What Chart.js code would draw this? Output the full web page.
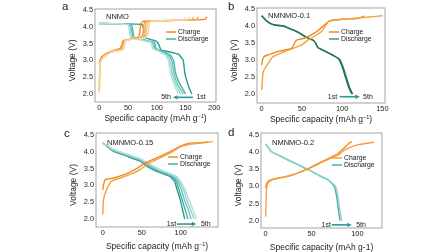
<!DOCTYPE html>
<html><head><meta charset="utf-8">
<script src="https://cdn.jsdelivr.net/npm/chart.js@4.4.1/dist/chart.umd.min.js"></script>
<style>
html,body{margin:0;padding:0;background:#fff;width:448px;height:252px;overflow:hidden}
canvas{position:absolute;left:0;top:0}
</style></head>
<body>
<canvas id="pa" width="448" height="252"></canvas>
<canvas id="pb" width="448" height="252"></canvas>
<canvas id="pc" width="448" height="252"></canvas>
<canvas id="pd" width="448" height="252"></canvas>
<script>
// ---------------- tick labels / texts ----------------
const aXTicks = [0, 50, 100, 150, 200];
const bXTicks = [0, 50, 100, 150];
const cXTicks = [0, 50, 100];
const dXTicks = [0, 50, 100];
const vTicks = [2.0, 2.5, 3.0, 3.5, 4.0, 4.5];
const seriesNames = ['Charge', 'Discharge'];
const cycleLabels = ['1st', '5th'];
const panelLetters = ['a', 'b', 'c', 'd'];
const sampleNames = ['NNMO', 'NMNMO-0.1', 'NMNMO-0.15', 'NMNMO-0.2'];

// ---------------- panel a (NNMO): [capacity mAh/g, voltage V] ----------------
const aCharge1 = [[0,2.9],[1,3.0],[4,3.1],[12,3.2],[25,3.3],[36,3.35],[39,3.45],[41,3.58],[48,3.62],[62,3.64],[67,3.68],[70,3.78],[72,4.08],[76,4.16],[100,4.18],[150,4.2],[184,4.22],[187,4.3]];
const aCharge2 = [[0,2.05],[1,2.85],[4,3.05],[12,3.18],[25,3.29],[38,3.34],[41,3.45],[43,3.58],[50,3.62],[66,3.65],[73,3.7],[76,3.8],[78,4.1],[82,4.16],[110,4.18],[150,4.2],[170,4.22],[172,4.3]];
const aCharge3 = [[0,2.05],[1,2.85],[4,3.04],[12,3.17],[25,3.28],[39,3.33],[42,3.45],[44,3.58],[52,3.62],[69,3.65],[76,3.7],[79,3.8],[81,4.1],[85,4.16],[110,4.18],[150,4.2],[162,4.21],[164,4.3]];
const aCharge4 = [[0,2.05],[1,2.85],[4,3.03],[12,3.16],[25,3.27],[40,3.32],[43,3.45],[45,3.58],[53,3.62],[71,3.65],[79,3.7],[82,3.8],[84,4.1],[88,4.16],[110,4.18],[150,4.2],[155,4.21],[157,4.3]];
const aCharge5 = [[0,2.05],[1,2.85],[4,3.02],[12,3.15],[25,3.26],[41,3.31],[44,3.45],[46,3.58],[54,3.62],[73,3.65],[82,3.7],[85,3.8],[87,4.1],[91,4.16],[110,4.18],[140,4.2],[148,4.21],[150,4.3]];
const aDischarge1 = [[0,4.1],[40,4.09],[74,4.07],[77,3.95],[80,3.68],[90,3.62],[100,3.56],[104,3.45],[107,3.32],[115,3.28],[130,3.22],[138,3.18],[143,3.08],[146,3.0],[149,2.6],[152,2.4],[157,2.15],[161,2.0]];
const aDischarge2 = [[0,4.1],[30,4.09],[56,4.06],[58,3.9],[61,3.68],[80,3.6],[96,3.53],[99,3.35],[108,3.28],[124,3.15],[129,3.0],[133,2.6],[140,2.3],[150,2.0]];
const aDischarge3 = [[0,4.1],[30,4.09],[54,4.06],[56,3.9],[59,3.68],[78,3.6],[94,3.53],[97,3.35],[106,3.28],[121,3.15],[126,3.0],[130,2.6],[136,2.3],[146,2.0]];
const aDischarge4 = [[0,4.1],[30,4.09],[52,4.06],[54,3.9],[57,3.68],[76,3.6],[92,3.53],[95,3.35],[104,3.28],[118,3.15],[123,3.0],[127,2.6],[133,2.3],[141,2.0]];
const aDischarge5 = [[0,4.1],[30,4.09],[50,4.06],[52,3.9],[55,3.68],[74,3.6],[90,3.53],[93,3.35],[102,3.28],[115,3.15],[120,3.0],[124,2.6],[130,2.3],[137,2.0]];

// ---------------- panel b (NMNMO-0.1) ----------------
const bCharge1 = [[0,2.85],[1,3.0],[3,3.1],[8,3.15],[20,3.25],[37,3.34],[40,3.45],[42,3.55],[45,3.6],[53,3.64],[68,3.83],[78,4.03],[84,4.15],[99,4.2],[119,4.22],[124,4.26],[127,4.3]];
const bCharge2 = [[0,2.12],[1,2.45],[2,2.66],[8,2.9],[14,3.1],[29,3.25],[49,3.44],[58,3.59],[74,3.83],[82,4.1],[86,4.15],[99,4.19],[127,4.25],[150,4.3]];
const bDischarge1 = [[0,4.3],[4,4.2],[9,4.1],[16,4.03],[27,4.0],[37,3.9],[45,3.82],[52,3.72],[59,3.63],[64,3.58],[67,3.5],[70,3.36],[78,3.27],[90,3.12],[96,3.02],[100,2.8],[104,2.5],[108,2.2],[112,2.0]];
const bDischarge5 = [[0,4.3],[4,4.2],[9,4.1],[16,4.03],[27,4.0],[37,3.9],[45,3.82],[52,3.72],[59,3.63],[64,3.58],[67,3.5],[70,3.36],[78,3.27],[90,3.12],[97,3.02],[101,2.8],[105,2.5],[109,2.2],[113,2.0]];

// ---------------- panel c (NMNMO-0.15) ----------------
const cCharge1 = [[0,2.87],[1,3.0],[3,3.17],[14,3.22],[31,3.35],[45,3.52],[52,3.64],[69,3.82],[86,4.0],[99,4.16],[111,4.26],[130,4.28],[135,4.3]];
const cCharge2 = [[0,2.13],[1,2.58],[5,2.87],[11,3.12],[31,3.29],[48,3.47],[60,3.67],[86,3.96],[101,4.16],[116,4.24],[135,4.28],[141,4.31]];
const cDischarge1 = [[0,4.27],[6,4.15],[14,4.01],[31,3.87],[48,3.72],[56,3.57],[69,3.42],[86,3.27],[92,3.12],[95,2.9],[99,2.6],[102,2.3],[105,2.0]];
const cDischarge2 = [[0,4.27],[6,4.16],[14,4.03],[31,3.89],[48,3.74],[57,3.6],[70,3.44],[88,3.28],[94,3.12],[98,2.85],[102,2.55],[106,2.25],[109,2.0]];
const cDischarge3 = [[0,4.27],[6,4.17],[14,4.05],[31,3.91],[48,3.76],[58,3.62],[71,3.46],[90,3.28],[96,3.12],[101,2.85],[105,2.55],[110,2.25],[113,2.0]];
const cDischarge4 = [[0,4.27],[6,4.18],[14,4.06],[31,3.92],[48,3.78],[59,3.63],[72,3.47],[92,3.28],[98,3.12],[104,2.85],[108,2.55],[113,2.25],[117,2.0]];
const cDischarge5 = [[0,4.27],[6,4.19],[14,4.07],[31,3.93],[48,3.8],[60,3.64],[73,3.48],[94,3.28],[100,3.12],[106,2.85],[111,2.55],[116,2.25],[120,2.0]];

// ---------------- panel d (NMNMO-0.2) ----------------
const dCharge1 = [[0,2.95],[1,3.08],[3,3.16],[8,3.21],[28,3.33],[47,3.53],[65,3.77],[79,3.96],[87,4.16],[92,4.28],[94,4.3]];
const dCharge2 = [[0,2.12],[0.5,2.6],[1,2.95],[3,3.12],[8,3.2],[28,3.32],[47,3.52],[65,3.75],[80,3.93],[87,4.08],[101,4.22],[116,4.28],[118,4.3]];
const dDischarge1 = [[0,4.24],[6.5,4.01],[17,3.87],[32,3.67],[47,3.48],[61,3.28],[68,3.19],[72,3.09],[74,3.04],[76,2.9],[78,2.6],[79.5,2.3],[81,2.0]];
const dDischarge5 = [[0,4.24],[6.5,4.02],[17,3.88],[32,3.68],[47,3.49],[61,3.29],[68,3.2],[72,3.11],[75,3.05],[77.5,2.9],[79.5,2.6],[81,2.3],[83,2.0]];

// ---------------- styling ----------------
const FONT = '"Liberation Sans", Arial, Helvetica, sans-serif';
const FRAME = '#8c8c8c';
const TEXT = '#222222';
const W = 448, H = 252, YW = 20, XH = 12;
const orange = ['#F08A1C','#F4A040','#F7B463','#F9C584','#FBD5A5'];
const teal = ['#2A9C92','#4BB0A6','#6FC2B9','#93D3CB','#B3E1DB'];
const green = '#1F7A4C';
const arrowColor = '#2A9C92';

Chart.defaults.font.family = FONT;

function drawXTitle(ctx, cx, cy, sup) {
  const big = '8.5px ' + FONT, small = '5.5px ' + FONT;
  if (!sup) {
    ctx.font = big; ctx.textAlign = 'center'; ctx.textBaseline = 'middle';
    ctx.fillText('Specific capacity (mAh g-1)', cx, cy);
    return;
  }
  const p1 = 'Specific capacity (mAh g', p2 = '\u22121', p3 = ')';
  ctx.font = big; const w1 = ctx.measureText(p1).width, w3 = ctx.measureText(p3).width;
  ctx.font = small; const w2 = ctx.measureText(p2).width;
  let x = cx - (w1 + w2 + w3) / 2;
  ctx.textAlign = 'left'; ctx.textBaseline = 'middle';
  ctx.font = big; ctx.fillText(p1, x, cy); x += w1;
  ctx.font = small; ctx.fillText(p2, x, cy - 3); x += w2;
  ctx.font = big; ctx.fillText(p3, x, cy);
}

const decor = {
  id: 'decor',
  afterDraw(chart, args, o) {
    const ctx = chart.ctx, a = chart.chartArea, xs = chart.scales.x, ys = chart.scales.y;
    ctx.save();
    ctx.strokeStyle = FRAME; ctx.lineWidth = 0.8;
    ctx.strokeRect(a.left, a.top, a.right - a.left, a.bottom - a.top);
    ctx.fillStyle = TEXT;
    ctx.font = '11.5px ' + FONT; ctx.textAlign = 'left'; ctx.textBaseline = 'alphabetic';
    ctx.fillText(o.letter, a.left + o.letterDx, o.letterY);
    ctx.font = '7.5px ' + FONT; ctx.textBaseline = 'middle';
    ctx.fillText(o.sample, a.left + 11, a.top + o.sampleDy);
    const lx = a.right - o.legDx, ly = a.top + o.legDy;
    ctx.lineWidth = 1.5;
    ctx.strokeStyle = o.legColors[0];
    ctx.beginPath(); ctx.moveTo(lx, ly); ctx.lineTo(lx + 10, ly); ctx.stroke();
    ctx.strokeStyle = o.legColors[1];
    ctx.beginPath(); ctx.moveTo(lx, ly + 7); ctx.lineTo(lx + 10, ly + 7); ctx.stroke();
    ctx.font = '6.8px ' + FONT; ctx.fillStyle = TEXT;
    ctx.fillText(seriesNames[0], lx + 12, ly);
    ctx.fillText(seriesNames[1], lx + 12, ly + 7);
    const ay = ys.getPixelForValue(o.arrowV);
    const x1 = xs.getPixelForValue(o.arrowFrom), x2 = xs.getPixelForValue(o.arrowTo);
    ctx.strokeStyle = arrowColor; ctx.fillStyle = arrowColor; ctx.lineWidth = 1.6;
    const dir = Math.sign(x2 - x1);
    ctx.beginPath(); ctx.moveTo(x1, ay); ctx.lineTo(x2 - dir * 3, ay); ctx.stroke();
    ctx.beginPath(); ctx.moveTo(x2, ay); ctx.lineTo(x2 - dir * 4.5, ay - 2.2); ctx.lineTo(x2 - dir * 4.5, ay + 2.2); ctx.closePath(); ctx.fill();
    ctx.fillStyle = TEXT; ctx.font = '7px ' + FONT; ctx.textAlign = 'center';
    ctx.fillText(cycleLabels[0], xs.getPixelForValue(o.firstAt), ay);
    ctx.fillText(cycleLabels[1], xs.getPixelForValue(o.fifthAt), ay);
    ctx.save();
    ctx.translate(a.left - 22, (a.top + a.bottom) / 2 + 5);
    ctx.rotate(-Math.PI / 2);
    ctx.font = '8.5px ' + FONT; ctx.textAlign = 'center'; ctx.textBaseline = 'middle';
    ctx.fillText('Voltage (V)', 0, 0);
    ctx.restore();
    drawXTitle(ctx, (a.left + a.right) / 2, a.bottom + o.xTitleDy, o.sup);
    ctx.restore();
  }
};

function makePanel(id, p) {
  new Chart(document.getElementById(id), {
    type: 'line',
    data: { datasets: p.series.map(s => ({
      data: s.data, borderColor: s.color, borderWidth: 1.4, pointRadius: 0,
      tension: 0.15, fill: false
    })) },
    options: {
      responsive: false, animation: false, events: [],
      layout: { padding: { left: p.L - YW, right: W - p.R, top: p.T, bottom: H - p.B - XH } },
      plugins: { legend: { display: false }, tooltip: { enabled: false }, decor: p.decor },
      scales: {
        x: {
          type: 'linear', min: p.xMin, max: p.xMax,
          afterFit: s => { s.height = XH; },
          afterBuildTicks: s => { s.ticks = p.xTicks.map(v => ({ value: v })); },
          grid: { display: true, drawOnChartArea: false, drawTicks: false },
          border: { display: false },
          ticks: { color: TEXT, font: { size: 7.4 }, padding: 2, maxRotation: 0, autoSkip: false, callback: v => String(v) }
        },
        y: {
          type: 'linear', min: p.yMin, max: p.yMax,
          afterFit: s => { s.width = YW; },
          afterBuildTicks: s => { s.ticks = vTicks.map(v => ({ value: v })); },
          grid: { display: true, drawOnChartArea: false, drawTicks: false },
          border: { display: false },
          ticks: { color: TEXT, font: { size: 7.4 }, padding: 2, autoSkip: false, callback: v => Number(v).toFixed(1) }
        }
      }
    },
    plugins: [decor]
  });
}

makePanel('pa', {
  L: 95, R: 216, T: 9, B: 102, xMin: -7.5, xMax: 203, yMin: 1.762, yMax: 4.53, xTicks: aXTicks,
  series: [
    { data: aCharge5, color: orange[4] }, { data: aCharge4, color: orange[3] }, { data: aCharge3, color: orange[2] },
    { data: aCharge2, color: orange[1] }, { data: aCharge1, color: orange[0] },
    { data: aDischarge5, color: teal[4] }, { data: aDischarge4, color: teal[3] }, { data: aDischarge3, color: teal[2] },
    { data: aDischarge2, color: teal[1] }, { data: aDischarge1, color: teal[0] }
  ],
  decor: { letter: panelLetters[0], letterDx: -33, letterY: 9.5, sample: sampleNames[0], sampleDy: 7.5,
    legDx: 50, legDy: 23, legColors: [orange[0], teal[1]],
    arrowV: 1.9, arrowFrom: 163, arrowTo: 128, firstAt: 177, fifthAt: 116, xTitleDy: 17, sup: true }
});

makePanel('pb', {
  L: 257, R: 385, T: 8, B: 103, xMin: -5.8, xMax: 153.2, yMin: 1.735, yMax: 4.53, xTicks: bXTicks,
  series: [
    { data: bCharge2, color: orange[1] }, { data: bCharge1, color: orange[0] },
    { data: bDischarge5, color: green }, { data: bDischarge1, color: green }
  ],
  decor: { letter: panelLetters[1], letterDx: -29, letterY: 9.5, sample: sampleNames[1], sampleDy: 7.5,
    legDx: 56, legDy: 24, legColors: [orange[0], '#3C9C72'],
    arrowV: 1.92, arrowFrom: 97, arrowTo: 122, firstAt: 88, fifthAt: 132, xTitleDy: 17, sup: true }
});

makePanel('pc', {
  L: 96, R: 218, T: 133, B: 227, xMin: -8.6, xMax: 147.7, yMin: 1.762, yMax: 4.56, xTicks: cXTicks,
  series: [
    { data: cCharge2, color: orange[1] }, { data: cCharge1, color: orange[0] },
    { data: cDischarge5, color: teal[4] }, { data: cDischarge4, color: teal[3] }, { data: cDischarge3, color: teal[2] },
    { data: cDischarge2, color: teal[1] }, { data: cDischarge1, color: teal[0] }
  ],
  decor: { letter: panelLetters[2], letterDx: -32, letterY: 136.5, sample: sampleNames[2], sampleDy: 10,
    legDx: 50, legDy: 24, legColors: [orange[0], teal[1]],
    arrowV: 1.85, arrowFrom: 95, arrowTo: 120, firstAt: 88, fifthAt: 132, xTitleDy: 20, sup: true }
});

makePanel('pd', {
  L: 261, R: 382, T: 133, B: 228, xMin: -5.1, xMax: 126.9, yMin: 1.789, yMax: 4.558, xTicks: dXTicks,
  series: [
    { data: dCharge2, color: orange[1] }, { data: dCharge1, color: orange[0] },
    { data: dDischarge5, color: teal[3] }, { data: dDischarge1, color: teal[1] }
  ],
  decor: { letter: panelLetters[3], letterDx: -33, letterY: 136, sample: sampleNames[3], sampleDy: 10,
    legDx: 50, legDy: 25, legColors: [orange[1], teal[1]],
    arrowV: 1.88, arrowFrom: 72, arrowTo: 94, firstAt: 66, fifthAt: 104, xTitleDy: 20, sup: false }
});
</script>
</body></html>
